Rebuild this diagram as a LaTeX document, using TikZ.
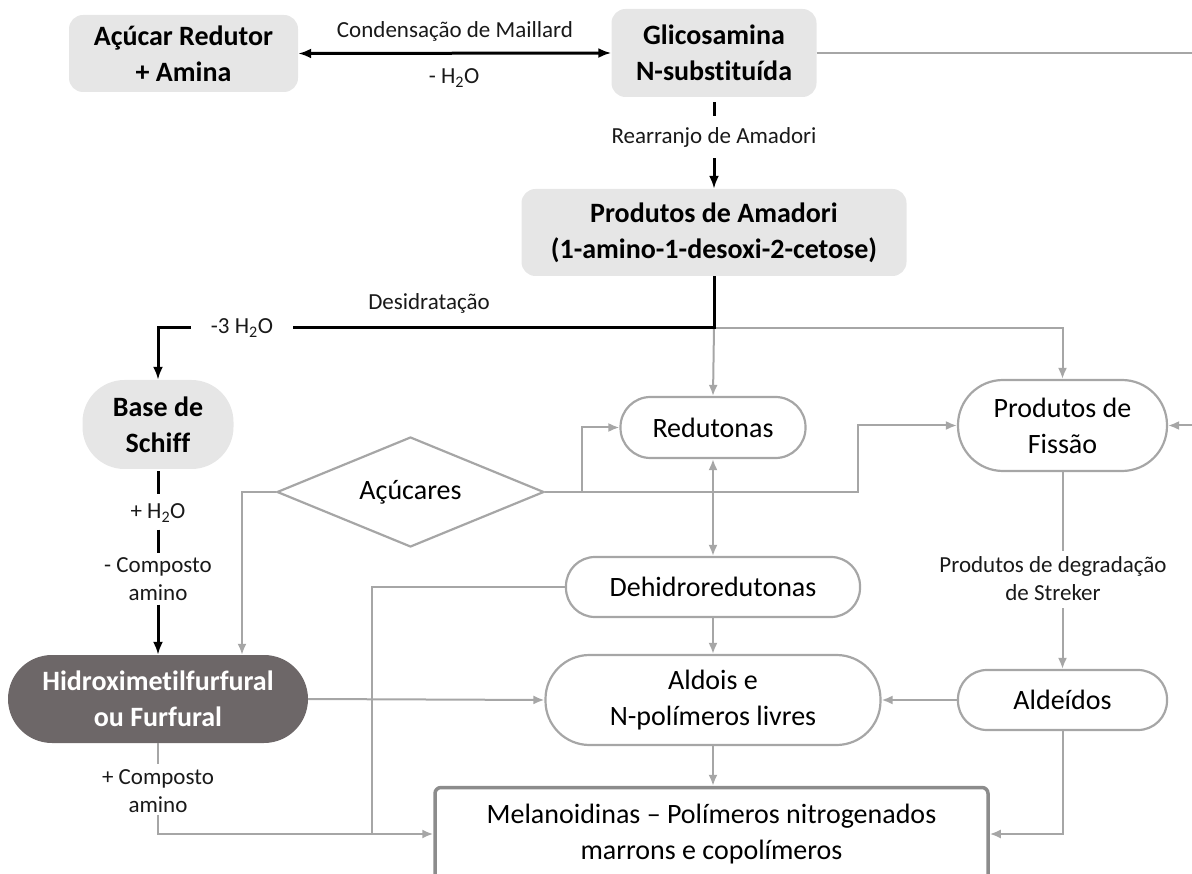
\documentclass[tikz,border=0pt]{standalone}
\usepackage{fontspec}
\setmainfont{Carlito}[Ligatures={TeX,NoCommon}]
\usetikzlibrary{arrows.meta,shapes.geometric}
\definecolor{boxgray}{HTML}{E6E6E6}
\definecolor{linegray}{HTML}{A6A6A6}
\definecolor{darkbox}{HTML}{6D6768}
\definecolor{framegray}{HTML}{8C8C8C}
\begin{document}
\begin{tikzpicture}[x=1pt,y=1pt,yscale=-1,
    bigtxt/.style={font=\fontsize{28}{36}\selectfont, align=center},
    lbl/.style={font=\fontsize{23}{28}\selectfont, align=center, inner sep=0pt, text=black!90},
    graybox/.style={font=\fontsize{28}{36}\selectfont\bfseries, align=center, fill=boxgray, rounded corners=14pt, inner sep=0pt},
    pill/.style={bigtxt, draw=linegray, line width=2.2pt, rounded corners=#1, inner sep=0pt},
    blk/.style={line width=3pt, black},
    gry/.style={line width=2pt, linegray},
    blkarr/.style={blk, -{Latex[length=13pt,width=10pt]}},
    gryarr/.style={gry, -{Latex[length=11pt,width=9pt]}},
  ]
    \useasboundingbox (0,0) rectangle (1192,874);
    % caixas cinzentas
    \node[graybox, minimum width=229pt, minimum height=77pt] (acucar) at (183.5,53.5) {Açúcar Redutor\\+ Amina};
    \node[graybox, minimum width=205pt, minimum height=88pt] (glic) at (714,53) {Glicosamina\\N-substituída};
    \node[graybox, minimum width=385pt, minimum height=87pt] (amadori) at (714,232.5) {Produtos de Amadori\\(1-amino-1-desoxi-2-cetose)};
    \node[graybox, rounded corners=42pt, minimum width=151pt, minimum height=89pt] (schiff) at (158,424.5) {Base de\\Schiff};
    \node[graybox, fill=darkbox, text=white, rounded corners=44pt, minimum width=300pt, minimum height=88pt] (hmf) at (158,699) {Hidroximetilfurfural\\ou Furfural};
    % losango
    \node[bigtxt, draw=linegray, line width=2.2pt, diamond, aspect=2.4, inner sep=0pt, minimum width=267pt, minimum height=110pt] (acucares) at (410.5,492) {Açúcares};
    % caixas arredondadas
    \node[pill=30pt, minimum width=185pt, minimum height=61pt] (redut) at (713,427.5) {Redutonas};
    \node[pill=45pt, minimum width=209pt, minimum height=91pt] (fissao) at (1062.5,425.5) {Produtos de\\Fissão};
    \node[pill=29pt, minimum width=294pt, minimum height=60pt] (dehidro) at (713,587) {Dehidroredutonas};
    \node[pill=44pt, minimum width=335pt, minimum height=90pt] (aldois) at (713,700) {Aldois e\\N-polímeros livres};
    \node[pill=29pt, minimum width=209pt, minimum height=60pt] (aldeidos) at (1062.5,700) {Aldeídos};
    \node[bigtxt, draw=framegray, line width=3.5pt, rounded corners=6pt, inner sep=0pt, minimum width=553pt, minimum height=93pt] (melan) at (711.5,834) {Melanoidinas – Polímeros nitrogenados\\marrons e copolímeros};
    % textos das setas
    \node[lbl] (maillard) at (455,31) {Condensação de Maillard};
    \node[lbl] (menosagua) at (454,78) {- H\textsubscript{2}O};
    \node[lbl] (rearranjo) at (714,137) {Rearranjo de Amadori};
    \node[lbl] (desidrat) at (429,303) {Desidratação};
    \node[lbl] (tresagua) at (242,328) {-3 H\textsubscript{2}O};
    \node[lbl] (maisagua) at (158,513) {+ H\textsubscript{2}O};
    \node[lbl] (menoscomp) at (158,579) {- Composto\\amino};
    \node[lbl] (maiscomp) at (158,791) {+ Composto\\amino};
    \node[lbl] (streker) at (1053,579) {Produtos de degradação\\de Streker};
    \coordinate (junc) at (714,328);
    \coordinate (foraR) at (1197,53);
    \coordinate (ramo) at (582,492);
    \coordinate (encontro) at (372,833.5);
    % ligacoes cinzentas
    \draw[gryarr] (glic.east) -- (foraR) |- (fissao.east);
    \draw[gryarr] (junc) -| (fissao.north);
    \draw[gryarr] (junc) -- (redut.north);
    \draw[gryarr] (acucares.west) -| ([xshift=84pt]hmf.north);
    \draw[gry] (acucares.east) -- (ramo);
    \draw[gryarr] (ramo) |- (redut.west);
    \draw[gryarr] (ramo) -- (858,492) |- (fissao.west);
    \draw[gry, {Latex[length=11pt,width=9pt]}-{Latex[length=11pt,width=9pt]}] (redut.south) -- (dehidro.north);
    \draw[gry] (dehidro.west) -| (encontro);
    \draw[gryarr] (dehidro.south) -- (aldois.north);
    \draw[gryarr] (hmf.east) -- (aldois.west);
    \draw[gryarr] (aldois.south) -- (aldois.south |- melan.north);
    \draw[gryarr] (aldeidos.west) -- (aldois.east);
    \draw[gry, shorten >=6pt] (fissao.south) -- (fissao.south |- streker.north);
    \draw[gryarr, shorten <=7pt] (fissao.south |- streker.south) -- (aldeidos.north);
    \draw[gryarr] (aldeidos.south) |- (melan.east);
    \draw[gry, shorten >=5pt] (hmf.south) -- (maiscomp.north);
    \draw[gryarr, shorten <=2pt] (maiscomp.south) |- (melan.west);
    % ligacoes pretas
    \draw[blk, {Latex[length=13pt,width=10pt]}-{Latex[length=13pt,width=10pt]}] (acucar.east) -- (glic.west);
    \draw[blk, shorten <=5pt, shorten >=11pt] (glic.south) -- (rearranjo.north);
    \draw[blkarr, shorten <=11pt] (rearranjo.south) -- (amadori.north);
    \draw[blk] (amadori.south) -- (junc) -- ([xshift=20pt]tresagua.east);
    \draw[blkarr] ([xshift=-20pt]tresagua.west) -| (schiff.north);
    \draw[blk, shorten <=2pt, shorten >=9pt] (schiff.south) -- (maisagua.north);
    \draw[blk, shorten <=7pt, shorten >=4pt] (maisagua.south) -- (menoscomp.north);
    \draw[blkarr, shorten <=4pt] (menoscomp.south) -- (hmf.north);
\end{tikzpicture}
\end{document}
